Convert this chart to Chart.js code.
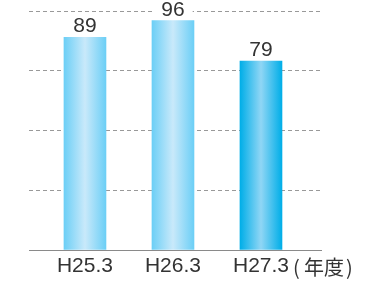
<!DOCTYPE html>
<html>
<head>
<meta charset="utf-8">
<script src="https://cdn.jsdelivr.net/npm/chart.js@4"></script>
<style>
  html, body { margin: 0; padding: 0; background: #fff; }
  #wrap { width: 378px; height: 282px; }
</style>
</head>
<body>
<div id="wrap"><canvas id="chart" width="378" height="282"></canvas></div>
<script>
// Data
const categories = ["H25.3", "H26.3", "H27.3"];
const values = [89, 96, 79];
const unitLabel = ["(", "年度", ")"];
const yMax = 100;
const yStep = 25;

// bar colours: [edge, centre]
const barColors = [
  ["#6ccff6", "#c9e9fa"],
  ["#6ccff6", "#c9e9fa"],
  ["#00aee8", "#90d6f5"],
];

const BAR_W = 42;
const textColor = "#333";

function barGradient(ctx) {
  const chart = ctx.chart;
  const xScale = chart.scales.x;
  const i = ctx.dataIndex;
  if (!xScale || i === undefined) return barColors[0][0];
  const cx = xScale.getPixelForValue(i);
  if (!isFinite(cx)) return barColors[i][0];
  const g = chart.ctx.createLinearGradient(cx - BAR_W / 2, 0, cx + BAR_W / 2, 0);
  const c = barColors[i];
  g.addColorStop(0, c[0]);
  g.addColorStop(0.5, c[1]);
  g.addColorStop(1, c[0]);
  return g;
}

// value labels on top of bars, with white box to break the grid line
const valueLabels = {
  id: "valueLabels",
  afterDatasetsDraw(chart) {
    const ctx = chart.ctx;
    const meta = chart.getDatasetMeta(0);
    ctx.save();
    ctx.font = "21px 'Liberation Sans', Arial, sans-serif";
    ctx.textAlign = "center";
    ctx.textBaseline = "alphabetic";
    meta.data.forEach((bar, i) => {
      const txt = String(values[i]);
      const w = ctx.measureText(txt).width;
      const base = bar.y - 5;
      ctx.fillStyle = "#fff";
      ctx.fillRect(bar.x - w / 2 - 8, base - 16, w + 16, 16);
      ctx.fillStyle = textColor;
      ctx.fillText(txt, bar.x, base);
    });
    ctx.restore();
  },
};

// unit text after the last category label
const unitText = {
  id: "unitText",
  afterDraw(chart) {
    const ctx = chart.ctx;
    const xs = chart.scales.x;
    const x0 = xs.getPixelForValue(categories.length - 1) + 32;
    const y = 275;
    ctx.save();
    ctx.fillStyle = textColor;
    ctx.textBaseline = "alphabetic";
    ctx.textAlign = "left";
    ctx.font = "20px 'Noto Sans CJK JP', sans-serif";
    ctx.fillText(unitLabel[0], x0, y);
    ctx.fillText(unitLabel[1], x0 + 11, y);
    ctx.fillText(unitLabel[2], x0 + 53, y);
    ctx.restore();
  },
};

new Chart(document.getElementById("chart"), {
  type: "bar",
  data: {
    datasets: [
      {
        data: values.map((v, i) => ({ x: i, y: v })),
        backgroundColor: barGradient,
        borderWidth: 0,
        barThickness: BAR_W,
      },
    ],
  },
  options: {
    responsive: false,
    animation: false,
    events: [],
    layout: { padding: { left: 29, right: 57, top: 11, bottom: 0 } },
    plugins: { legend: { display: false }, tooltip: { enabled: false } },
    scales: {
      x: {
        type: "linear",
        offset: false,
        min: -0.636,
        max: 2.682,
        afterBuildTicks: (axis) => {
          axis.ticks = categories.map((c, i) => ({ value: i }));
        },
        afterFit: (s) => { s.height = 32; },
        grid: { display: false, drawTicks: false },
        border: { display: true, color: "#8a8a8a", width: 1 },
        ticks: {
          padding: 4,
          color: textColor,
          font: { family: "'Liberation Sans', Arial, sans-serif", size: 21 },
          callback: (v) => categories[v],
          maxRotation: 0,
          autoSkip: false,
        },
      },
      y: {
        min: 0,
        max: yMax,
        ticks: { display: false, stepSize: yStep },
        afterFit: (s) => { s.width = 0; },
        border: { display: false, dash: [4, 3] },
        grid: {
          drawTicks: false,
          lineWidth: 1,
          color: (c) => (c.tick && c.tick.value === 0 ? "rgba(0,0,0,0)" : "#999999"),
        },
      },
    },
  },
  plugins: [valueLabels, unitText],
});
</script>
</body>
</html>
